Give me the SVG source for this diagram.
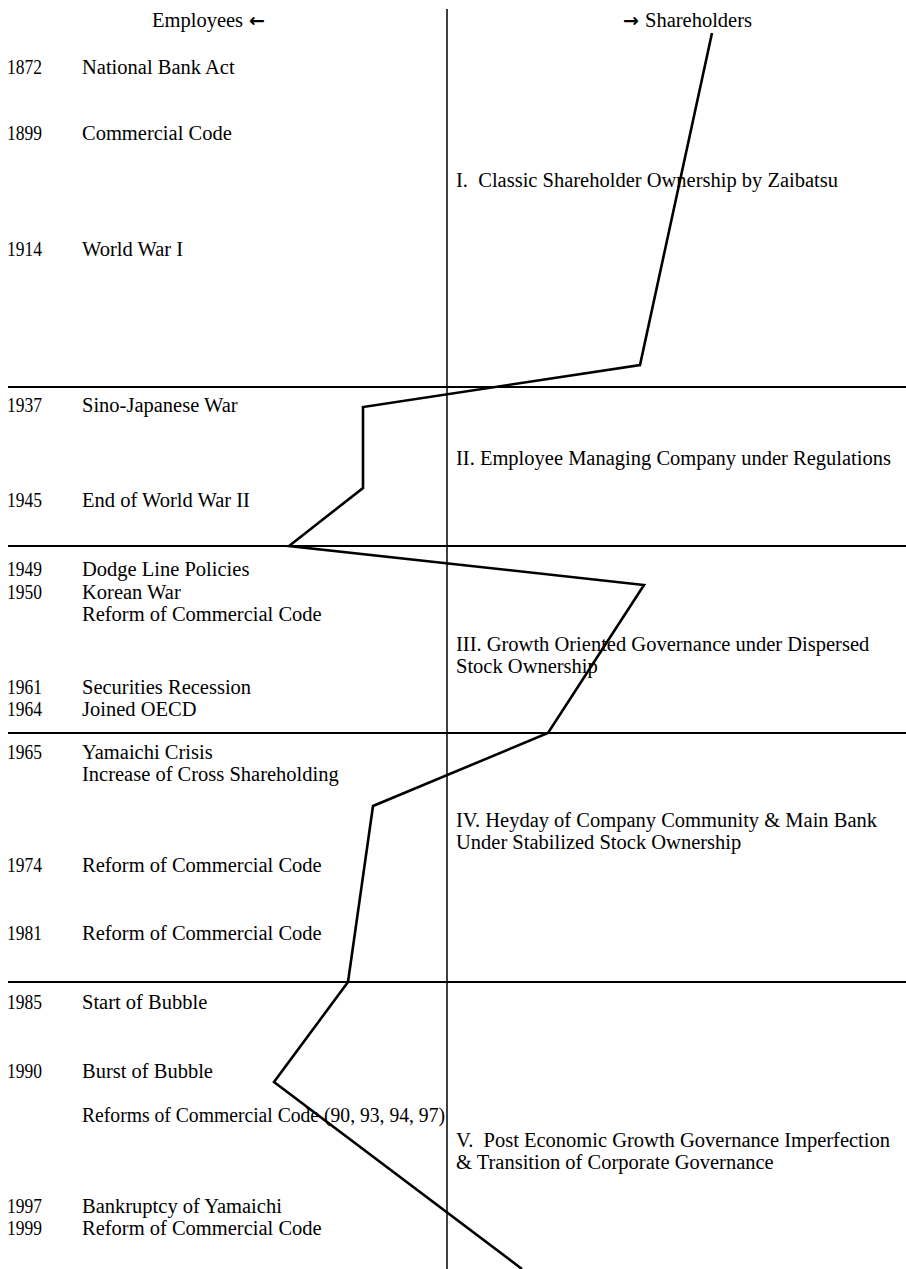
<svg xmlns="http://www.w3.org/2000/svg" width="906" height="1269" viewBox="0 0 906 1269">
<style>
text{font-family:"Liberation Serif","Times New Roman",serif;font-size:20.5px;fill:#000}
.arr{font-family:"DejaVu Sans",sans-serif;font-weight:bold;font-size:19px}
.ax{stroke:#000;stroke-width:1.5;fill:none}
.hl{stroke:#000;stroke-width:1.8;fill:none}
.curve{stroke:#000;stroke-width:2.6;fill:none;stroke-linejoin:miter}
</style>
<rect width="906" height="1269" fill="#fff"/>
<g id="headers">
<text x="152" y="27">Employees</text><text class="arr" x="249" y="27">←</text>
<text class="arr" x="623" y="27">→</text><text x="645" y="27">Shareholders</text>
</g>
<g id="axes">
<line class="ax" x1="447" y1="9" x2="447" y2="1269"/>
<line class="hl" x1="8" y1="387" x2="906" y2="387"/>
<line class="hl" x1="8" y1="546" x2="906" y2="546"/>
<line class="hl" x1="8" y1="733" x2="906" y2="733"/>
<line class="hl" x1="8" y1="982" x2="906" y2="982"/>
</g>
<g id="events">
<text x="7" y="74" textLength="35" lengthAdjust="spacingAndGlyphs">1872</text><text x="82" y="74">National Bank Act</text>
<text x="7" y="140" textLength="35" lengthAdjust="spacingAndGlyphs">1899</text><text x="82" y="140">Commercial Code</text>
<text x="7" y="256" textLength="35" lengthAdjust="spacingAndGlyphs">1914</text><text x="82" y="256">World War I</text>
<text x="7" y="412" textLength="35" lengthAdjust="spacingAndGlyphs">1937</text><text x="82" y="412">Sino-Japanese War</text>
<text x="7" y="507" textLength="35" lengthAdjust="spacingAndGlyphs">1945</text><text x="82" y="507">End of World War II</text>
<text x="7" y="576" textLength="35" lengthAdjust="spacingAndGlyphs">1949</text><text x="82" y="576">Dodge Line Policies</text>
<text x="7" y="599" textLength="35" lengthAdjust="spacingAndGlyphs">1950</text><text x="82" y="599">Korean War</text>
<text x="82" y="621">Reform of Commercial Code</text>
<text x="7" y="694" textLength="35" lengthAdjust="spacingAndGlyphs">1961</text><text x="82" y="694">Securities Recession</text>
<text x="7" y="716" textLength="35" lengthAdjust="spacingAndGlyphs">1964</text><text x="82" y="716">Joined OECD</text>
<text x="7" y="759" textLength="35" lengthAdjust="spacingAndGlyphs">1965</text><text x="82" y="759">Yamaichi Crisis</text>
<text x="82" y="781">Increase of Cross Shareholding</text>
<text x="7" y="872" textLength="35" lengthAdjust="spacingAndGlyphs">1974</text><text x="82" y="872">Reform of Commercial Code</text>
<text x="7" y="940" textLength="35" lengthAdjust="spacingAndGlyphs">1981</text><text x="82" y="940">Reform of Commercial Code</text>
<text x="7" y="1009" textLength="35" lengthAdjust="spacingAndGlyphs">1985</text><text x="82" y="1009">Start of Bubble</text>
<text x="7" y="1078" textLength="35" lengthAdjust="spacingAndGlyphs">1990</text><text x="82" y="1078">Burst of Bubble</text>
<text x="82" y="1122" textLength="363" lengthAdjust="spacingAndGlyphs">Reforms of Commercial Code (90, 93, 94, 97)</text>
<text x="7" y="1213" textLength="35" lengthAdjust="spacingAndGlyphs">1997</text><text x="82" y="1213">Bankruptcy of Yamaichi</text>
<text x="7" y="1235" textLength="35" lengthAdjust="spacingAndGlyphs">1999</text><text x="82" y="1235">Reform of Commercial Code</text>
</g>
<g id="phase1"><text x="456" y="187" xml:space="preserve">I.  Classic Shareholder Ownership by Zaibatsu</text></g>
<g id="phase2"><text x="456" y="465">II. Employee Managing Company under Regulations</text></g>
<g id="phase3"><text x="456" y="651">III. Growth Oriented Governance under Dispersed</text><text x="456" y="673">Stock Ownership</text></g>
<g id="phase4"><text x="456" y="827">IV. Heyday of Company Community &amp; Main Bank</text><text x="456" y="849">Under Stabilized Stock Ownership</text></g>
<g id="phase5"><text x="456" y="1147" xml:space="preserve">V.  Post Economic Growth Governance Imperfection</text><text x="456" y="1169">&amp; Transition of Corporate Governance</text></g>
<g id="connectors">
<polyline class="curve" points="712,33 640,365 363,407 363,488 289,546 644,585 548,733 373,806 348,982 274,1082 522,1269"/>
</g>
</svg>
